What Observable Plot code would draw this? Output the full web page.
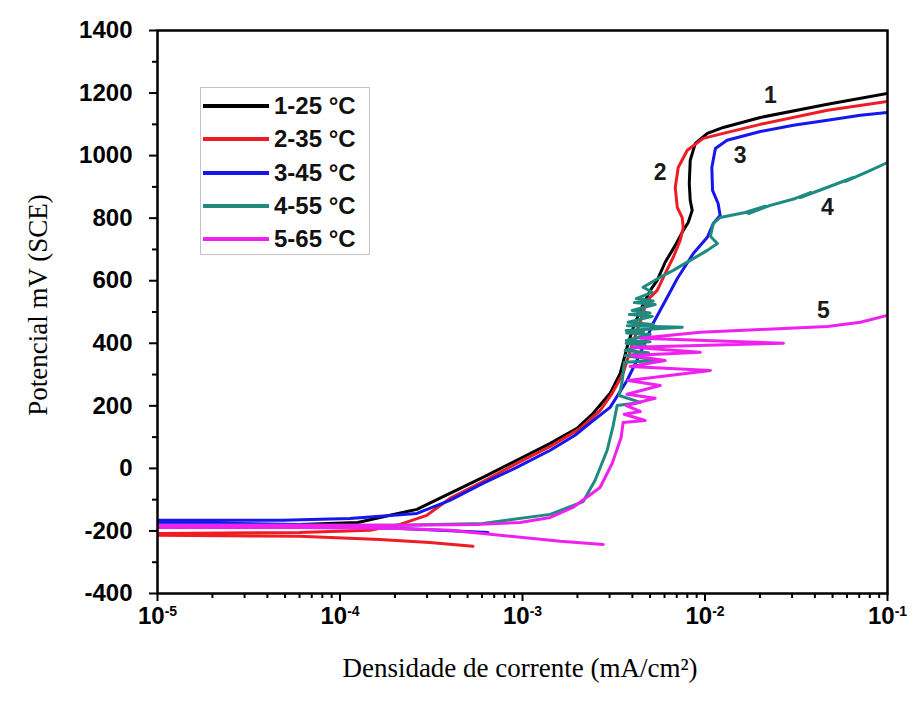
<!DOCTYPE html>
<html><head><meta charset="utf-8">
<script src="https://cdn.jsdelivr.net/npm/d3@7"></script>
<script src="https://cdn.jsdelivr.net/npm/@observablehq/plot@0.6"></script>
<style>
body{margin:0;background:#fff}
#wrap{position:relative;width:914px;height:702px;overflow:hidden}
.ttl{position:absolute;font-family:'Liberation Serif','Times New Roman',serif;font-size:27px;color:#000;white-space:nowrap}
#legend{position:absolute;left:200px;top:87px;width:170px;height:168px;border:1px solid #c4c4c4;box-sizing:border-box;background:#fff}
.lrow{position:absolute;left:2px;height:30px;display:flex;align-items:center}
.sw{width:66px;height:4px;margin-right:5px}
.lt{font-family:'Liberation Sans',Arial,sans-serif;font-weight:bold;font-size:24px;color:#111}
</style>
</head><body><div id="wrap"></div>
<script>
const seriesNames = ["1-25 °C", "2-35 °C", "3-45 °C", "4-55 °C", "5-65 °C"];
const seriesColors = ["#000000", "#ee1c24", "#1616ee", "#1f8a80", "#f020f0"];

const s1Current = [1e-5, 6.0e-5, 1.25e-4, 1.88e-4, 2.64e-4, 4.0e-4, 6.07e-4, 9.3e-4, 1.42e-3, 1.99e-3, 2.44e-3, 3.02e-3, 3.43e-3, 3.74e-3, 3.99e-3, 4.42e-3, 5.01e-3, 5.47e-3, 6.05e-3, 6.87e-3, 7.6e-3, 8.09e-3, 8.51e-3, 8.3e-3, 8.2e-3, 8.3e-3, 8.85e-3, 1.03e-2, 1.26e-2, 2.01e-2, 4.69e-2, 0.1];
const s1Potential = [-179, -179, -173, -150, -131, -80, -29, 26, 80, 128, 176, 240, 304, 387, 441, 505, 569, 601, 659, 713, 761, 786, 825, 857, 911, 985, 1039, 1071, 1090, 1122, 1164, 1199];

const s2Current = [5.35e-4, 3.10e-4, 1.65e-4, 6.0e-5, 1e-5, 1e-5, 6.0e-5, 1.46e-4, 2.13e-4, 2.99e-4, 4.0e-4, 6.07e-4, 9.3e-4, 1.42e-3, 2.07e-3, 2.66e-3, 3.10e-3, 3.56e-3, 3.89e-3, 4.25e-3, 4.82e-3, 5.47e-3, 6.05e-3, 6.70e-3, 7.31e-3, 7.6e-3, 7.5e-3, 7.05e-3, 6.87e-3, 7.13e-3, 8.0e-3, 9.78e-3, 1.26e-2, 2.01e-2, 4.69e-2, 0.1];
const s2Potential = [-249, -237, -227, -217, -214, -208, -205, -198, -179, -150, -96, -42, 16, 70, 128, 185, 240, 304, 377, 441, 537, 569, 623, 675, 729, 770, 802, 834, 898, 962, 1017, 1055, 1071, 1100, 1145, 1173];

const s3Current = [6.47e-4, 3.52e-4, 2.13e-4, 6.0e-5, 1e-5, 1e-5, 4.85e-5, 1.13e-4, 2.64e-4, 4.0e-4, 6.07e-4, 9.3e-4, 1.42e-3, 1.94e-3, 2.44e-3, 3.02e-3, 3.74e-3, 4.42e-3, 5.20e-3, 6.21e-3, 7.05e-3, 8.63e-3, 1.03e-2, 1.11e-2, 1.21e-2, 1.18e-2, 1.10e-2, 1.09e-2, 1.14e-2, 1.32e-2, 2.01e-2, 3.05e-2, 4.69e-2, 7.11e-2, 0.1];
const s3Potential = [-205, -198, -192, -179, -173, -166, -166, -160, -144, -102, -48, 3, 58, 106, 153, 195, 281, 368, 464, 547, 607, 687, 739, 783, 809, 847, 889, 962, 1023, 1049, 1077, 1097, 1113, 1129, 1138];

const s4Current = [1e-5, 2.13e-4, 6.07e-4, 1.42e-3, 2.15e-3, 2.50e-3, 2.91e-3, 3.14e-3, 3.30e-3, 4.42e-3, 3.39e-3, 3.52e-3, 3.61e-3, 5.68e-3, 3.65e-3, 4.9e-3, 3.65e-3, 4.70e-3, 3.70e-3, 5.0e-3, 3.70e-3, 5.01e-3, 3.72e-3, 4.6e-3, 3.70e-3, 7.50e-3, 3.75e-3, 5.2e-3, 3.79e-3, 5.14e-3, 3.85e-3, 5.0e-3, 3.99e-3, 5.33e-3, 4.1e-3, 5.2e-3, 4.20e-3, 5.14e-3, 4.58e-3, 5.68e-3, 6.70e-3, 8.30e-3, 1.03e-2, 1.17e-2, 1.07e-2, 1.11e-2, 1.21e-2, 1.66e-2, 2.14e-2, 1.73e-2, 2.28e-2, 3.13e-2, 3.78e-2, 3.33e-2, 4.86e-2, 6.50e-2, 5.89e-2, 8.07e-2, 0.1];
const s4Potential = [-182, -182, -176, -147, -106, -38, 58, 137, 201, 211, 233, 281, 339, 345, 360, 370, 377, 393, 400, 405, 409, 428, 433, 437, 441, 451, 456, 460, 467, 486, 492, 497, 505, 524, 530, 535, 543, 563, 579, 611, 633, 665, 697, 719, 742, 783, 802, 818, 838, 815, 841, 863, 882, 866, 902, 930, 918, 953, 978];

const s5Current = [2.77e-3, 1.61e-3, 7.53e-4, 4.0e-4, 2.13e-4, 6.0e-5, 1e-5, 1e-5, 2.13e-4, 5.85e-4, 9.7e-4, 1.42e-3, 1.89e-3, 2.66e-3, 3.10e-3, 3.47e-3, 3.56e-3, 4.70e-3, 3.61e-3, 4.42e-3, 3.70e-3, 5.33e-3, 3.74e-3, 5.68e-3, 3.79e-3, 1.07e-2, 3.89e-3, 6.05e-3, 3.94e-3, 9.42e-3, 3.99e-3, 2.69e-2, 4.42e-3, 9.42e-3, 2.01e-2, 4.69e-2, 7.11e-2, 0.1];
const s5Potential = [-243, -233, -214, -198, -192, -189, -189, -182, -182, -179, -173, -157, -125, -61, 16, 99, 147, 153, 173, 182, 201, 224, 237, 265, 281, 313, 326, 345, 361, 371, 387, 400, 416, 435, 444, 454, 467, 489];

const curveLabels = ["1", "2", "3", "4", "5"];
const labelCurrent = [2.28e-2, 5.68e-3, 1.56e-2, 4.69e-2, 4.46e-2];
const labelPotential = [1192, 946, 1001, 834, 505];

const xTicks = [1e-5, 1e-4, 1e-3, 1e-2, 1e-1];
const xMinorTicks = [2e-5, 3e-5, 4e-5, 5e-5, 6e-5, 7e-5, 8e-5, 9e-5, 2e-4, 3e-4, 4e-4, 5e-4, 6e-4, 7e-4, 8e-4, 9e-4, 2e-3, 3e-3, 4e-3, 5e-3, 6e-3, 7e-3, 8e-3, 9e-3, 2e-2, 3e-2, 4e-2, 5e-2, 6e-2, 7e-2, 8e-2, 9e-2];
const yTicks = [-400, -200, 0, 200, 400, 600, 800, 1000, 1200, 1400];
const yMinorTicks = [-300, -100, 100, 300, 500, 700, 900, 1100, 1300];

const xTitle = "Densidade de corrente (mA/cm²)";
const yTitle = "Potencial mV (SCE)";

const currents = [s1Current, s2Current, s3Current, s4Current, s5Current];
const potentials = [s1Potential, s2Potential, s3Potential, s4Potential, s5Potential];
const seriesRows = currents.map((cs, i) => cs.map((c, j) => ({current: c, potential: potentials[i][j], series: seriesNames[i]})));
const labelRows = curveLabels.map((t, i) => ({label: t, current: labelCurrent[i], potential: labelPotential[i]}));

const plot = Plot.plot({
  width: 914, height: 702,
  marginLeft: 157, marginRight: 27, marginTop: 30, marginBottom: 109,
  style: {fontFamily: "'Liberation Sans', Arial, sans-serif", fontSize: "24px", fontWeight: "bold", background: "white", color: "#000"},
  x: {type: "log", domain: [1e-5, 1e-1]},
  y: {domain: [-400, 1400]},
  marks: [
    ...seriesRows.map((rows, i) => Plot.line(rows, {x: "current", y: "potential", stroke: seriesColors[i], strokeWidth: 3, strokeLinejoin: "round", clip: true})),
    Plot.text(labelRows, {x: "current", y: "potential", text: "label", fontSize: 23, fontWeight: "bold", fill: "#1a1a1a"}),
    Plot.frame({stroke: "#000", strokeWidth: 2.5}),
    Plot.axisY(yTicks, {tickSize: 8, tickPadding: 17, tickFormat: d => String(d), label: null, strokeWidth: 2}),
    Plot.axisY(yMinorTicks, {tickSize: 5, tickFormat: () => "", label: null, strokeWidth: 2}),
    Plot.axisX(xTicks, {tickSize: 8, tickPadding: 5, tickFormat: d => String(Math.round(Math.log10(d))), label: null, strokeWidth: 2}),
    Plot.axisX(xMinorTicks, {tickSize: 5, tickFormat: () => "", label: null, strokeWidth: 2})
  ]
});

const NS = "http://www.w3.org/2000/svg";
plot.querySelectorAll('g[aria-label="x-axis tick label"] text').forEach(t => {
  const s = t.textContent;
  if (!s) return;
  t.textContent = "";
  const a = document.createElementNS(NS, "tspan");
  a.textContent = "10";
  const b = document.createElementNS(NS, "tspan");
  b.textContent = s;
  b.setAttribute("dy", "-0.55em");
  b.setAttribute("font-size", "14");
  t.append(a, b);
});

const wrap = document.getElementById("wrap");
wrap.appendChild(plot);

const yt = document.createElement("div");
yt.className = "ttl"; yt.textContent = yTitle;
yt.style.left = "38px"; yt.style.top = "305px";
yt.style.transform = "translate(-50%,-50%) rotate(-90deg)";
wrap.appendChild(yt);

const xt = document.createElement("div");
xt.className = "ttl"; xt.textContent = xTitle;
xt.style.left = "520px"; xt.style.top = "668px";
xt.style.transform = "translate(-50%,-50%)";
wrap.appendChild(xt);

const lg = document.createElement("div");
lg.id = "legend";
seriesNames.forEach((n, i) => {
  const r = document.createElement("div");
  r.className = "lrow";
  r.style.top = (3 + i * 33.3) + "px";
  const sw = document.createElement("div");
  sw.className = "sw"; sw.style.background = seriesColors[i];
  const lt = document.createElement("span");
  lt.className = "lt"; lt.textContent = n;
  r.append(sw, lt);
  lg.appendChild(r);
});
wrap.appendChild(lg);
</script>
</body></html>
